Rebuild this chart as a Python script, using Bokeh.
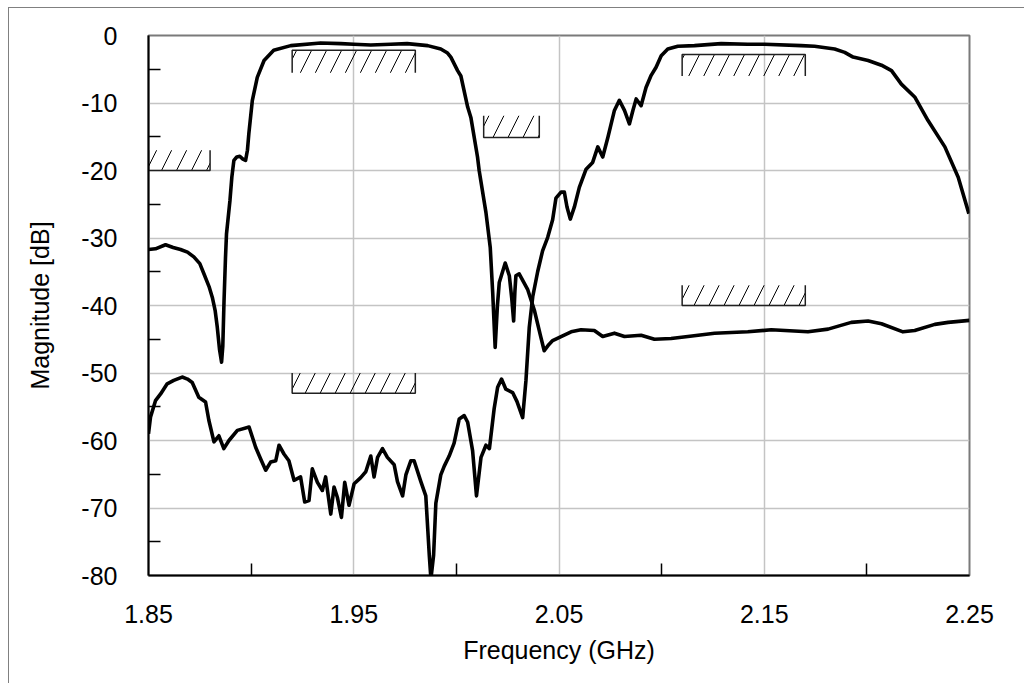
from bokeh.plotting import figure
from bokeh.models import FixedTicker, ColumnDataSource, Range1d
from bokeh.embed import file_html
from bokeh.resources import INLINE

# ---- data ----
f_tx = [1.850, 1.8534, 1.8583, 1.8620, 1.8656, 1.8690, 1.8721, 1.8750, 1.8770, 1.8795,
        1.8811, 1.8825, 1.8835, 1.8846, 1.8856, 1.8862, 1.8868, 1.8875, 1.8880, 1.8897,
        1.8906, 1.8916, 1.8930, 1.8945, 1.8960, 1.8973, 1.8982, 1.8989, 1.9006, 1.9030,
        1.9063, 1.9110, 1.9193, 1.9339, 1.9437, 1.9500, 1.9583, 1.9680, 1.9760, 1.9860,
        1.9924, 1.9957, 1.9973, 2.0006, 2.0022, 2.0055, 2.0071, 2.0103, 2.0111, 2.0144,
        2.0165, 2.0177, 2.0189, 2.0200, 2.0209, 2.0238, 2.0258, 2.0270, 2.0279, 2.0285,
        2.0290, 2.0306, 2.0347, 2.0380, 2.0410, 2.0428, 2.0450, 2.0469, 2.0510, 2.0559,
        2.0607, 2.0672, 2.0713, 2.0770, 2.0819, 2.0900, 2.0965, 2.1046, 2.1128, 2.1258,
        2.1420, 2.1534, 2.1713, 2.1811, 2.1924, 2.2006, 2.2071, 2.2176, 2.2233, 2.2331,
        2.2396, 2.2500]
m_tx = [-31.7, -31.6, -31.0, -31.4, -31.7, -32.1, -32.8, -33.8, -35.3, -37.2,
        -38.8, -40.8, -43.2, -46.5, -48.4, -46.0, -39.3, -33.0, -29.4, -24.4,
        -21.0, -18.5, -18.0, -17.9, -18.3, -18.5, -17.0, -14.5, -9.6, -6.2,
        -3.7, -2.2, -1.5, -1.1, -1.2, -1.3, -1.4, -1.3, -1.2, -1.5,
        -2.0, -2.6, -3.2, -5.2, -6.0, -10.6, -12.2, -18.0, -20.0, -26.2,
        -31.4, -38.1, -46.2, -40.0, -36.6, -33.7, -35.6, -39.0, -42.3, -38.0,
        -35.6, -35.3, -37.6, -40.7, -44.5, -46.7, -45.8, -45.2, -44.6, -43.9,
        -43.6, -43.7, -44.6, -44.1, -44.6, -44.4, -45.0, -44.9, -44.6, -44.1,
        -43.9, -43.6, -43.9, -43.5, -42.5, -42.3, -42.7, -43.9, -43.7, -42.8,
        -42.5, -42.2]

f_rx = [1.8500, 1.8510, 1.8534, 1.8559, 1.8591, 1.8623, 1.8664, 1.8690, 1.8713, 1.8745,
        1.8778, 1.8794, 1.8819, 1.8843, 1.8867, 1.8892, 1.8933, 1.8990, 1.9022, 1.9046,
        1.9071, 1.9095, 1.9120, 1.9136, 1.9160, 1.9184, 1.9209, 1.9241, 1.9261, 1.9282,
        1.9298, 1.9323, 1.9347, 1.9363, 1.9388, 1.9404, 1.9420, 1.9440, 1.9456, 1.9477,
        1.9502, 1.9534, 1.9559, 1.9583, 1.9599, 1.9616, 1.9640, 1.9664, 1.9697, 1.9713,
        1.9738, 1.9754, 1.9778, 1.9794, 1.9827, 1.9851, 1.9868, 1.9876, 1.9889, 1.9900,
        1.9924, 1.9941, 1.9965, 1.9989, 2.0014, 2.0038, 2.0055, 2.0079, 2.0098, 2.0120,
        2.0144, 2.0161, 2.0184, 2.0201, 2.0220, 2.0241, 2.0274, 2.0295, 2.0323, 2.0339,
        2.0355, 2.0372, 2.0396, 2.0420, 2.0445, 2.0469, 2.0485, 2.0510, 2.0526, 2.0539,
        2.0555, 2.0575, 2.0599, 2.0632, 2.0664, 2.0689, 2.0713, 2.0738, 2.0770, 2.0794,
        2.0819, 2.0843, 2.0860, 2.0876, 2.0900, 2.0924, 2.0949, 2.0973, 2.0998, 2.1030,
        2.1079, 2.1160, 2.1290, 2.1420, 2.1502, 2.1680, 2.1745, 2.1843, 2.1892, 2.1933,
        2.2006, 2.2071, 2.2120, 2.2168, 2.2233, 2.2298, 2.2380, 2.2445, 2.2497]
m_rx = [-59.0, -56.5, -54.1, -53.1, -51.6, -51.1, -50.6, -50.9, -51.4, -53.6,
        -54.3, -57.0, -60.2, -59.3, -61.2, -60.0, -58.5, -58.0, -61.0, -62.7,
        -64.4, -63.2, -63.0, -60.7, -62.0, -63.0, -65.9, -65.4, -69.1, -68.9,
        -64.2, -66.2, -67.4, -65.4, -70.9, -66.9, -68.4, -71.4, -66.2, -69.6,
        -66.4, -65.5, -64.6, -62.3, -65.4, -62.5, -61.2, -62.5, -63.6, -66.1,
        -68.2, -65.1, -63.0, -63.0, -66.1, -68.2, -77.0, -80.5, -77.0, -69.3,
        -65.1, -63.8, -62.3, -60.4, -56.8, -56.3, -57.3, -61.5, -68.2, -62.5,
        -60.7, -61.2, -55.3, -52.1, -50.9, -52.4, -52.9, -54.2, -56.6, -51.1,
        -43.3, -38.7, -35.0, -31.9, -29.9, -27.3, -24.1, -23.2, -23.2, -25.4,
        -27.2, -25.4, -22.5, -19.8, -18.8, -16.5, -18.0, -15.1, -11.1, -9.6,
        -11.1, -13.1, -11.1, -9.4, -10.4, -7.7, -5.9, -4.7, -3.0, -2.0,
        -1.6, -1.5, -1.2, -1.3, -1.3, -1.5, -1.6, -2.0, -2.5, -3.2,
        -3.7, -4.4, -5.2, -7.2, -9.1, -12.6, -16.5, -21.0, -26.4]

# spec masks
mask_f0 = [1.85, 1.92, 2.0133, 2.11, 2.11, 1.92]
mask_f1 = [1.88, 1.98, 2.0404, 2.17, 2.17, 1.98]
mask_top = [-17.0, -2.2, -11.9, -2.8, -37.0, -50.0]
mask_bot = [-20.0, -5.5, -15.1, -6.0, -40.0, -53.0]
mask_kind = ["max", "min", "max", "min", "max", "max"]

x_ticks = [1.85, 1.95, 2.05, 2.15, 2.25]
x_minor = [1.90, 2.00, 2.10, 2.20]
y_ticks = [0, -10, -20, -30, -40, -50, -60, -70, -80]
y_minor = [-5, -15, -25, -35, -45, -55, -65, -75]

FONT = "Liberation Sans"
FS = "25px"

p = figure(width=1016, height=676, output_backend="svg", toolbar_location=None,
           x_range=Range1d(1.85, 2.25), y_range=Range1d(-80, 0),
           min_border_left=139, min_border_top=27, min_border_right=56, min_border_bottom=109,
           background_fill_color="white", border_fill_color="white")
p.styles = {"border-left": "1px solid #808080", "border-top": "1px solid #808080",
            "margin-left": "8px", "margin-top": "7px"}

p.outline_line_color = "#7a7a7a"
p.outline_line_width = 2

p.xaxis.ticker = FixedTicker(ticks=x_ticks, minor_ticks=x_minor)
p.yaxis.ticker = FixedTicker(ticks=y_ticks, minor_ticks=y_minor)
p.xaxis.major_label_overrides = {v: f"{v:.2f}" for v in x_ticks}
p.yaxis.major_label_overrides = {v: f"{v}" for v in y_ticks}

for ax in (p.xaxis[0], p.yaxis[0]):
    ax.axis_line_color = "black"
    ax.axis_line_width = 2
    ax.major_tick_in = 0
    ax.major_tick_out = 0
    ax.minor_tick_in = 12
    ax.minor_tick_out = 0
    ax.minor_tick_line_color = "black"
    ax.minor_tick_line_width = 1.5
    ax.major_label_text_font = FONT
    ax.major_label_text_font_size = FS
    ax.major_label_text_color = "black"
    ax.axis_label_text_font = FONT
    ax.axis_label_text_font_size = FS
    ax.axis_label_text_font_style = "normal"
    ax.axis_label_text_color = "black"

p.xaxis.axis_label = "Frequency (GHz)"
p.yaxis.axis_label = "Magnitude [dB]"
p.xaxis.major_label_standoff = 29
p.yaxis.major_label_standoff = 31
p.xaxis.axis_label_standoff = 10
p.yaxis.axis_label_standoff = 24

p.xgrid.grid_line_color = "#c4c4c4"
p.ygrid.grid_line_color = "#c4c4c4"
p.xgrid.grid_line_width = 1.5
p.ygrid.grid_line_width = 1.5

# hatched mask boxes
src = ColumnDataSource(dict(left=mask_f0, right=mask_f1, top=mask_top, bottom=mask_bot))
p.quad(left="left", right="right", top="top", bottom="bottom", source=src,
       fill_alpha=0, line_alpha=0, hatch_pattern="/", hatch_color="black",
       hatch_weight=1, hatch_scale=30)

# mask outlines: sides + limit edge
xs, ys = [], []
for a, b, t, bt, k in zip(mask_f0, mask_f1, mask_top, mask_bot, mask_kind):
    if k == "max":
        xs.append([a, a, b, b]); ys.append([t, bt, bt, t])
    else:
        xs.append([a, a, b, b]); ys.append([bt, t, t, bt])
p.multi_line(xs, ys, line_color="#202020", line_width=1.5)

p.line(f_tx, m_tx, line_color="black", line_width=3.6, line_join="round")
p.line(f_rx, m_rx, line_color="black", line_width=3.6, line_join="round")

open("out.html", "w").write(file_html(p, INLINE))
